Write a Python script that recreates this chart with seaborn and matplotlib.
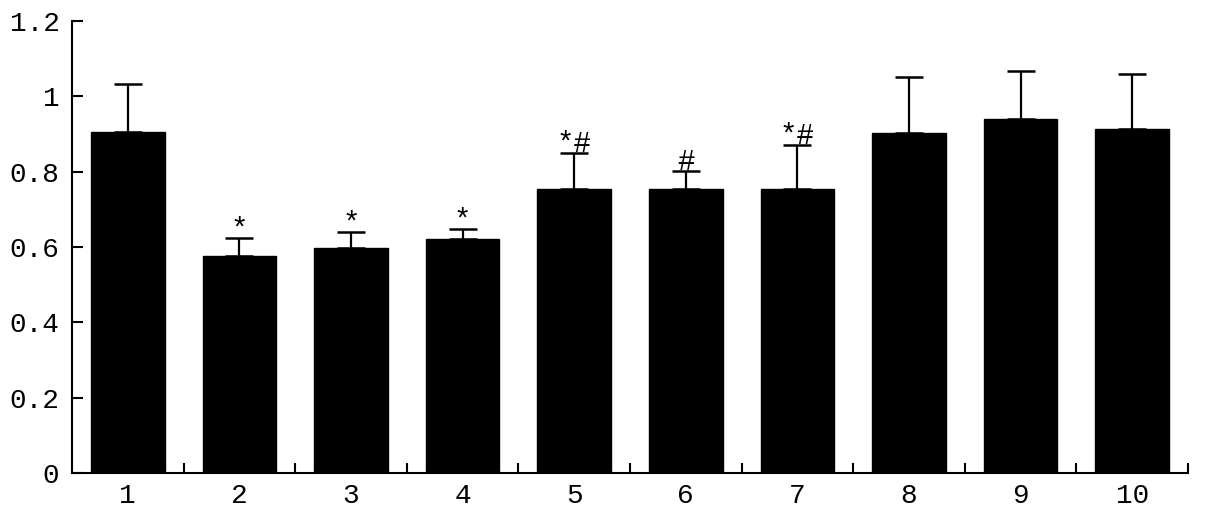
import matplotlib
matplotlib.use("Agg")
import matplotlib.pyplot as plt
import seaborn as sns
import numpy as np
import pandas as pd

groups = ["1", "2", "3", "4", "5", "6", "7", "8", "9", "10"]
means = [0.906, 0.576, 0.598, 0.620, 0.754, 0.754, 0.754, 0.902, 0.940, 0.912]
errors = [0.126, 0.047, 0.041, 0.027, 0.096, 0.048, 0.117, 0.150, 0.128, 0.146]
marks = ["", "*", "*", "*", "*#", "#", "*#", "", "", ""]
yticks = [0, 0.2, 0.4, 0.6, 0.8, 1.0, 1.2]
ytick_labels = ["0", "0.2", "0.4", "0.6", "0.8", "1", "1.2"]

sns.set_style("white")
plt.rcParams["font.family"] = ["Liberation Mono", "DejaVu Sans Mono"]

df = pd.DataFrame({"group": groups, "value": means})

fig = plt.figure(figsize=(12.05, 5.19), dpi=100)
ax = fig.add_axes([72 / 1205, 46 / 519, (1188 - 72) / 1205, (473 - 21) / 519])

sns.barplot(data=df, x="group", y="value", color="black", width=0.66,
            errorbar=None, ax=ax, saturation=1)
for p in ax.patches:
    p.set_edgecolor("black")

x = np.arange(len(groups))
ax.errorbar(x, means, yerr=[np.zeros(len(errors)), errors], fmt="none",
            ecolor="black", elinewidth=1.6, capsize=10, capthick=1.8)

for xi, m, e, t in zip(x, means, errors, marks):
    if t:
        ax.annotate(t, (xi, m + e), xytext=(0, -4), textcoords="offset points",
                    ha="center", va="bottom", fontsize=21, color="black")

ax.set_xlim(-0.5, len(groups) - 0.5)
ax.set_ylim(0, 1.2)
ax.set_yticks(yticks)
ax.set_yticklabels(ytick_labels)
ax.set_xticks(x)
ax.set_xticklabels(groups)
ax.set_xticks(np.arange(0.5, len(groups), 1.0), minor=True)
ax.tick_params(axis="x", which="major", length=0, pad=7, labelsize=20, colors="black")
ax.tick_params(axis="x", which="minor", direction="in", length=7, width=1.5, color="black", bottom=True)
ax.tick_params(axis="y", direction="in", length=8, width=1.5, pad=9, labelsize=20, colors="black", left=True)
ax.set_xlabel("")
ax.set_ylabel("")

sns.despine(ax=ax, top=True, right=True)
for s in ["left", "bottom"]:
    ax.spines[s].set_linewidth(1.5)
    ax.spines[s].set_color("black")

fig.savefig("out.png", dpi=100)
